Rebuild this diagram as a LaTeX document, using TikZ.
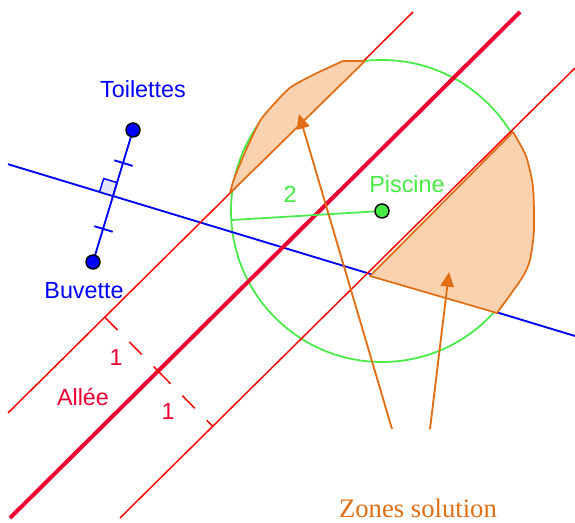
\documentclass[tikz,border=0pt]{standalone}
\usepackage{fontspec}
\setmainfont{Liberation Serif}
\newfontfamily\labfont{Liberation Sans}
\usetikzlibrary{arrows.meta,calc}
\definecolor{cblue}{RGB}{0,0,255}
\definecolor{cgreen}{RGB}{70,235,70}
\definecolor{cred}{RGB}{255,0,0}
\definecolor{ccrim}{RGB}{238,0,50}
\definecolor{corange}{RGB}{225,110,20}
\definecolor{cfill}{RGB}{250,210,175}
\definecolor{csq}{RGB}{228,228,250}
\tikzset{
  lab/.style={font=\labfont\fontsize{17.5}{20}\selectfont, inner sep=0pt},
  thinred/.style={draw=cred, line width=1.1pt},
  thickred/.style={draw=ccrim, line width=3pt},
  blueline/.style={draw=cblue, line width=1.4pt},
  zone/.style={fill=cfill, draw=corange, line width=1.3pt, line join=round},
  zarrow/.style={draw=corange, line width=1.4pt, -{Triangle[length=11pt,width=10pt]}},
  pt/.style={circle, draw=black, line width=1.1pt, minimum size=10.5pt, inner sep=0pt},
  dimline/.style={draw=cred, line width=1.1pt, dash pattern=on 13.5pt off 12.5pt},
}
\begin{document}
\begin{tikzpicture}[x=0.75pt,y=-0.75pt]
\useasboundingbox (0,0) rectangle (575,523);
% key coordinates
\coordinate (T) at (133,130);
\coordinate (B) at (93,262);
\coordinate (M) at (113,196);
\coordinate (P) at (382,211);
\coordinate (BL) at (8,164.2);
\coordinate (BR) at (575,336);
\coordinate (L1a) at (8,413);
\coordinate (L1b) at (413,12);
\coordinate (Ka) at (10,518);
\coordinate (Kb) at (520,12);
\coordinate (L2a) at (120,518);
\coordinate (L2b) at (575,68);
\coordinate (D1) at (104.8,317.2);
\coordinate (DC) at (158,371);
\coordinate (D2) at (212.7,426.3);
\coordinate (R) at (232,220);
% circle
\draw[cgreen, line width=1.3pt] (P) circle (151);
% lines
\draw[blueline] (BL) -- (BR);
\draw[thinred] (L1a) -- (L1b);
\draw[thinred] (L2a) -- (L2b);
% zones
\draw[zone] plot[smooth, tension=0.4] coordinates {(230,193) (234,179) (246,150) (260,121) (274,104) (291,87) (317,73) (343,61)} -- (365,61) -- cycle;
\draw[zone] (370,276) -- plot[smooth, tension=0.4] coordinates {(513,132) (526,156) (533,187) (534,230) (530,260) (522,278) (497,313)} -- cycle;
\draw[thickred] (Ka) -- (Kb);
\draw[dimline] (D1) -- (DC);
\draw[dimline] (DC) -- (D2);
% radius
\draw[cgreen, line width=1.3pt] (P) -- (R);
% segment TB with ticks and right angle
\draw[fill=csq, draw=cblue, line width=1.1pt] (M) -- ($(M)!14/69!(T)$) -- ++(-13.4,-4.06) -- ($(M)+(-13.4,-4.06)$) -- cycle;
\draw[blueline] (T) -- (B);
\draw[cblue, line width=1.4pt] (114.3,160.3) -- (132.7,165.9);
\draw[cblue, line width=1.4pt] (94.3,226.2) -- (112.7,231.8);
% arrows
\coordinate (A1) at (392,429);
\coordinate (A2) at (430,429);
\draw[zarrow] (A1) -- (299,114);
\draw[zarrow] (A2) -- (449,272);
% points
\node[pt, fill=cblue] (nT) at (T) {};
\node[pt, fill=cblue] (nB) at (B) {};
\node[pt, fill=cgreen] (nP) at (P) {};
% labels
\node[lab, text=cblue] (lT) at (143,89) {Toilettes};
\node[lab, text=cblue] (lB) at (84,291) {Buvette};
\node[lab, text=cgreen] (lP) at (407,184) {Piscine};
\node[lab, text=cgreen] (l2) at (290,194) {2};
\node[lab, text=ccrim] (lA) at (83,397) {Allée};
\node[lab, text=ccrim] (l1a) at (116,357) {1};
\node[lab, text=ccrim] (l1b) at (168,411) {1};
\node[text=corange, font=\fontsize{20}{24}\selectfont, inner sep=0pt] (lZ) at (418,508) {Zones solution};
\end{tikzpicture}
\end{document}
